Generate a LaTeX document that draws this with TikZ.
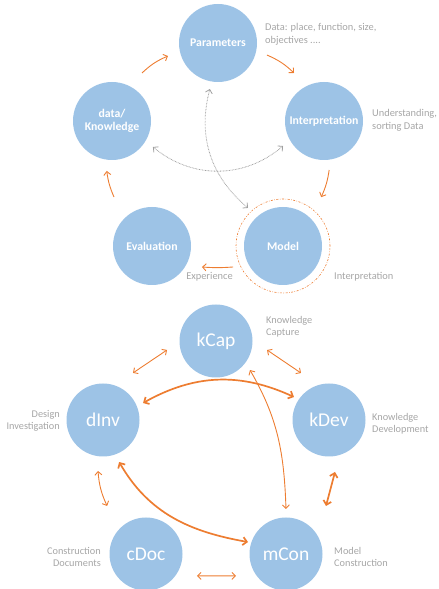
\documentclass[tikz,border=0pt]{standalone}
\usepackage{fontspec}
\setmainfont{Carlito}
\usetikzlibrary{arrows.meta}
\definecolor{cblue}{HTML}{9DC3E6}
\definecolor{corange}{HTML}{ED7D31}
\definecolor{cgray}{HTML}{A6A6A6}
\definecolor{cdot}{HTML}{A0A0A0}
\begin{document}
\begin{tikzpicture}[x=1pt,y=1pt,
  bub/.style={circle,fill=cblue,inner sep=0pt,text=white},
  topb/.style={bub,minimum size=78pt,font=\bfseries\fontsize{11.8}{13.5}\selectfont,align=center},
  botb/.style={bub,minimum size=73pt,font=\fontsize{19.5}{21}\selectfont},
  note/.style={text=cgray,font=\fontsize{10.4}{13}\selectfont,inner sep=0pt},
  bnote/.style={text=cgray,font=\fontsize{10.3}{12.5}\selectfont,inner sep=0pt},
  oarr/.style={draw=corange,line width=0.9pt,-{Straight Barb[length=3.5pt,width=7pt]}},
  oboth/.style={draw=corange,line width=0.9pt,{Straight Barb[length=3.5pt,width=7pt]}-{Straight Barb[length=3.5pt,width=7pt]}},
  othick/.style={draw=corange,line width=1.7pt,{Straight Barb[length=4pt,width=8pt]}-{Straight Barb[length=4pt,width=8pt]}},
  gboth/.style={draw=cdot,line width=0.8pt,dash pattern=on 0.7pt off 0.8pt,{Straight Barb[length=3.5pt,width=7pt]}-{Straight Barb[length=3.5pt,width=7pt]}},
  ring/.style={draw=corange,line width=0.6pt,dash pattern=on 2pt off 1.5pt on 0.6pt off 1.5pt}
]
\useasboundingbox (0,0) rectangle (439,589);
\clip (0,0) rectangle (439,589);

% ---------- top cycle ----------
\node[topb] (P) at (218,546) {Parameters};
\node[topb] (D) at (112,468) {data/\\Knowledge};
\node[topb] (I) at (324,468) {Interpretation};
\node[topb] (E) at (152,343) {Evaluation};
\node[topb] (M) at (283,343) {Model};
\node[circle,ring,minimum size=94pt,inner sep=0pt] (MR) at (M) {};

\node[note,anchor=west,align=left] (tP) at (265,554.5) {Data: place, function, size,\\objectives ....};
\node[note,anchor=west,align=left] (tI) at (372,468.5) {Understanding,\\sorting Data};
\node[note] (tE) at (209.5,312) {Experience};
\node[note,anchor=west] (tM) at (334,312) {Interpretation};

\draw[oarr] ([shift={(58:56.6)}]D.center) to[bend left=10] ([shift={(194.6:51.7)}]P.center);
\draw[oarr] ([shift={(-13.8:50.4)}]P.center) to[bend left=10] ([shift={(122:56.6)}]I.center);
\draw[oarr] ([shift={(-84:49.3)}]I.center) to[bend left=8] ([shift={(52:62)}]M.center);
\draw[oarr] ([shift={(202.8:54.2)}]M.center) to[bend left=4] ([shift={(-22.8:54.2)}]E.center);
\draw[oarr] ([shift={(127.8:62)}]E.center) to[bend left=8] ([shift={(264:50.2)}]D.center);

\draw[gboth] ([shift={(-32.4:48.5)}]D.center) to[bend right=40] ([shift={(211.4:48)}]I.center);
\draw[gboth] ([shift={(260:46.7)}]P.center) to[out=-105,in=140] ([shift={(132.6:51.7)}]M.center);

% ---------- bottom cycle ----------
\node[botb] (kCap) at (216,248) {kCap};
\node[botb] (dInv) at (103,169) {dInv};
\node[botb] (kDev) at (329,169) {kDev};
\node[botb] (cDoc) at (146,35) {cDoc};
\node[botb] (mCon) at (286,35) {mCon};

\node[bnote,anchor=west,align=left] (tkCap) at (266,262) {Knowledge\\Capture};
\node[bnote,anchor=east,align=right] (tdInv) at (60,168) {Design\\Investigation};
\node[bnote,anchor=west,align=left] (tkDev) at (372,165) {Knowledge\\Development};
\node[bnote,anchor=east,align=right] (tcDoc) at (101,32) {Construction\\Documents};
\node[bnote,anchor=west,align=left] (tmCon) at (334,32) {Model\\Construction};

\draw[oboth] ([shift={(57.5:55.8)}]dInv.center) -- ([shift={(190.4:49.8)}]kCap.center);
\draw[oboth] ([shift={(-10:51.8)}]kCap.center) -- ([shift={(120.8:54.7)}]kDev.center);
\draw[othick] ([shift={(23:43.5)}]dInv.center) to[bend left=27] ([shift={(146.7:41.9)}]kDev.center);
\draw[oboth] ([shift={(-40.5:44.7)}]kCap.center) to[out=-60,in=92] ([shift={(90:45)}]mCon.center);
\draw[othick] ([shift={(-69:45)}]dInv.center) to[out=-60,in=170] ([shift={(162.5:39.8)}]mCon.center);
\draw[othick] ([shift={(-83.4:52.3)}]kDev.center) -- ([shift={(50.2:62.5)}]mCon.center);
\draw[oboth] ([shift={(264.4:51.2)}]dInv.center) to[bend right=10] ([shift={(129:61.8)}]cDoc.center);
\draw[oboth] ([shift={(-23.3:55.5)}]cDoc.center) -- ([shift={(203.7:54.6)}]mCon.center);
\end{tikzpicture}
\end{document}
